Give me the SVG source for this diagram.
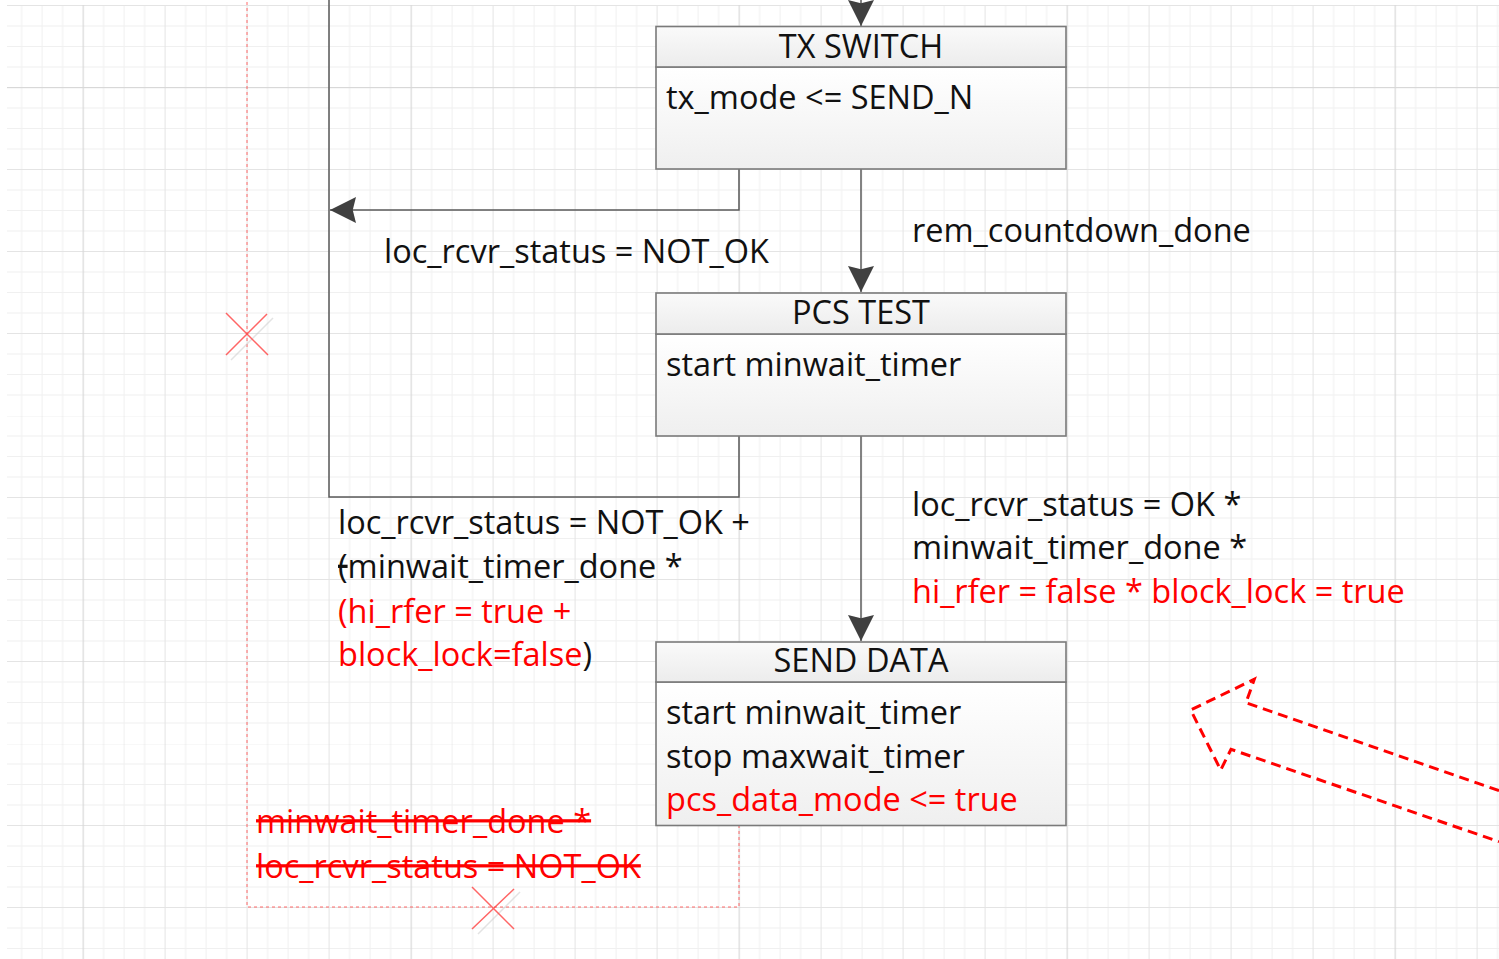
<svg xmlns="http://www.w3.org/2000/svg" width="1499" height="959" viewBox="0 0 1499 959">
  <defs>
    <style>
      .t { font-family: "Open Sans", "Liberation Sans", sans-serif; font-size: 32.5px; fill: #111; }
      .red { fill: #ff0000; }
      .mid { text-anchor: middle; }
      .box { stroke: #7a7a7a; stroke-width: 1.6; }
      .wire { fill: none; stroke: #5a5a5a; stroke-width: 1.5; }
      .dots { fill: none; stroke: #ff5050; stroke-width: 1; stroke-dasharray: 3 3; opacity: 0.85; }
      .cross { stroke: #ff4040; stroke-width: 1.5; opacity: 0.8; }
      .cross-sh { stroke: #c8c8c8; stroke-width: 1.5; opacity: 0.5; }
      .big { fill: none; stroke: #ff0000; stroke-width: 3; stroke-dasharray: 10 6; stroke-linejoin: miter; }
    </style>
    <pattern id="grid" patternUnits="userSpaceOnUse" x="82.6" y="87" width="328" height="328">
      <g fill="#f0f0f0">
        <rect x="20.5" y="0" width="1" height="328"/><rect x="41" y="0" width="1" height="328"/><rect x="61.5" y="0" width="1" height="328"/>
        <rect x="102.5" y="0" width="1" height="328"/><rect x="123" y="0" width="1" height="328"/><rect x="143.5" y="0" width="1" height="328"/>
        <rect x="184.5" y="0" width="1" height="328"/><rect x="205" y="0" width="1" height="328"/><rect x="225.5" y="0" width="1" height="328"/>
        <rect x="266.5" y="0" width="1" height="328"/><rect x="287" y="0" width="1" height="328"/><rect x="307.5" y="0" width="1" height="328"/>
        <rect y="20.5" x="0" height="1" width="328"/><rect y="41" x="0" height="1" width="328"/><rect y="61.5" x="0" height="1" width="328"/>
        <rect y="102.5" x="0" height="1" width="328"/><rect y="123" x="0" height="1" width="328"/><rect y="143.5" x="0" height="1" width="328"/>
        <rect y="184.5" x="0" height="1" width="328"/><rect y="205" x="0" height="1" width="328"/><rect y="225.5" x="0" height="1" width="328"/>
        <rect y="266.5" x="0" height="1" width="328"/><rect y="287" x="0" height="1" width="328"/><rect y="307.5" x="0" height="1" width="328"/>
      </g>
      <g fill="#e4e4e4">
        <rect x="82" y="0" width="1" height="328"/><rect x="164" y="0" width="1" height="328"/><rect x="246" y="0" width="1" height="328"/>
        <rect y="82" x="0" height="1" width="328"/><rect y="164" x="0" height="1" width="328"/><rect y="246" x="0" height="1" width="328"/>
      </g>
      <g fill="#d8d8d8">
        <rect x="0" y="0" width="1.2" height="328"/>
        <rect x="0" y="0" width="328" height="1.2"/>
      </g>
    </pattern>
    <linearGradient id="head" x1="0" y1="0" x2="0" y2="1">
      <stop offset="0" stop-color="#fafafa"/>
      <stop offset="1" stop-color="#ececec"/>
    </linearGradient>
    <linearGradient id="body" x1="0" y1="0" x2="0" y2="1">
      <stop offset="0" stop-color="#ffffff"/>
      <stop offset="1" stop-color="#efefef"/>
    </linearGradient>
    <marker id="arr" markerUnits="userSpaceOnUse" markerWidth="26" markerHeight="26" viewBox="0 0 24 24" refX="24" refY="12" orient="auto">
      <path d="M0,0 L24,12 L0,24 L3,12 Z" fill="#404040"/>
    </marker>
  </defs>

  <rect width="1499" height="959" fill="#ffffff"/>
  <rect x="7" y="5" width="1492" height="954" fill="url(#grid)"/>

  <!-- connectors -->
  <g id="connectors">
    <path class="wire" d="M861,0 V26" marker-end="url(#arr)"/>
    <path class="wire" d="M861,169 V292" marker-end="url(#arr)"/>
    <path class="wire" d="M861,436 V641" marker-end="url(#arr)"/>
    <path class="wire" d="M739,169 V210 H330" marker-end="url(#arr)"/>
    <path class="wire" d="M739,436 V497 H329 V0"/>
    <path class="dots" d="M739,825 V907 H247 V0"/>
  </g>

  <!-- removed-transition crosses -->
  <g id="cross-upper">
    <path class="cross-sh" d="M273,318 L231,360"/>
    <path class="cross" d="M226,313 L268,355 M267,314 L226,355"/>
  </g>
  <g id="cross-lower">
    <path class="cross-sh" d="M520,892 L478,934"/>
    <path class="cross" d="M472,887 L514,929 M514,889 L472,929"/>
  </g>

  <g id="tx-switch">
    <rect class="box" x="656" y="67" width="410" height="102" fill="url(#body)"/>
    <rect class="box" x="656" y="26.5" width="410" height="40.5" fill="url(#head)"/>
    <text class="t mid" x="861" y="57.5">TX SWITCH</text>
    <text class="t" x="666" y="108.5">tx_mode &lt;= SEND_N</text>
  </g>

  <g id="pcs-test">
    <rect class="box" x="656" y="334" width="410" height="102" fill="url(#body)"/>
    <rect class="box" x="656" y="293" width="410" height="41" fill="url(#head)"/>
    <text class="t mid" x="861" y="323.5">PCS TEST</text>
    <text class="t" x="666" y="375.5">start minwait_timer</text>
  </g>

  <g id="send-data">
    <rect class="box" x="656" y="682" width="410" height="143.5" fill="url(#body)"/>
    <rect class="box" x="656" y="642" width="410" height="40" fill="url(#head)"/>
    <text class="t mid" x="861" y="671.5">SEND DATA</text>
    <text class="t" x="666" y="723.5">start minwait_timer</text>
    <text class="t" x="666" y="767.5">stop maxwait_timer</text>
    <text class="t red" x="666" y="810.5">pcs_data_mode &lt;= true</text>
  </g>

  <!-- transition conditions -->
  <g id="labels">
    <text class="t" x="384" y="262.5">loc_rcvr_status = NOT_OK</text>
    <text class="t" x="912" y="241.5">rem_countdown_done</text>
    <text class="t" x="338" y="534">loc_rcvr_status = NOT_OK +</text>
    <text class="t" x="338" y="578"><tspan text-decoration="line-through">(</tspan>minwait_timer_done *</text>
    <text class="t red" x="338" y="622.5">(hi_rfer = true +</text>
    <text class="t" x="338" y="665.5"><tspan class="red">block_lock=false</tspan>)</text>
    <text class="t" x="912" y="515.5">loc_rcvr_status = OK *</text>
    <text class="t" x="912" y="558.5">minwait_timer_done *</text>
    <text class="t red" x="912" y="602.5">hi_rfer = false * block_lock = true</text>
    <text class="t red" x="256" y="832.5" text-decoration="line-through">minwait_timer_done *</text>
    <text class="t red" x="256" y="877.5" text-decoration="line-through">loc_rcvr_status = NOT_OK</text>
  </g>

  <!-- highlight arrow -->
  <path id="pointer" class="big" d="M1499,790.7 L1246,702.7 L1254.3,679.3 L1190.7,710 L1220.7,770 L1231,749.3 L1499,841.7"/>
</svg>
